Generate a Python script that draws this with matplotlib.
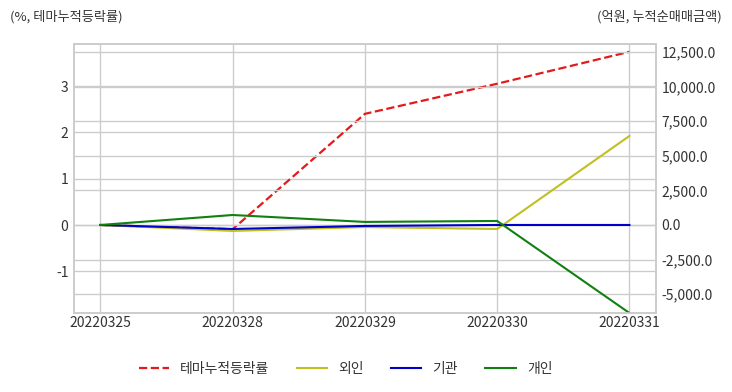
import matplotlib
matplotlib.use('Agg')
import matplotlib.pyplot as plt

plt.rcParams['font.family'] = ['Noto Sans CJK KR', 'DejaVu Sans']
plt.rcParams['axes.unicode_minus'] = False

dates = ['20220325', '20220328', '20220329', '20220330', '20220331']
theme_rate = [0.0, -0.09, 2.40, 3.05, 3.74]      # %, left axis
foreign = [0, -430, -150, -290, 6430]              # 억원, right axis
institution = [0, -290, -70, 0, 0]
individual = [0, 720, 220, 290, -6360]

grid_c = '#cccccc'
text_c = '#333333'

fig = plt.figure(figsize=(7.32, 3.92), dpi=100)
ax = fig.add_axes([0.101, 0.2015, 0.795, 0.6865])
ax2 = ax.twinx()

x = range(len(dates))
l1, = ax.plot(x, theme_rate, color='#e31a1c', ls='--', lw=1.6, label='테마누적등락률')
l2, = ax2.plot(x, foreign, color='#c0c020', lw=1.5, label='외인')
l3, = ax2.plot(x, institution, color='#0000cc', lw=1.5, label='기관')
l4, = ax2.plot(x, individual, color='#108010', lw=1.5, label='개인')

ax.set_xlim(-0.2, 4.2)
ax.set_ylim(-1.9, 3.91)
ax2.set_ylim(-6360, 13080)
ax.set_yticks([-1, 0, 1, 2, 3])
ax2.set_yticks([-5000, -2500, 0, 2500, 5000, 7500, 10000, 12500])
ax2.set_yticklabels(['{:,.1f}'.format(v) for v in ax2.get_yticks()])
ax.set_xticks(list(x))
ax.set_xticklabels(dates)

ax.grid(True, color=grid_c, lw=1)
ax2.yaxis.grid(True, color=grid_c, lw=1)
for a in (ax, ax2):
    a.set_axisbelow(True)
    a.tick_params(length=0, labelsize=10, labelcolor=text_c, pad=4)
    for s in a.spines.values():
        s.set_color(grid_c)
        s.set_linewidth(1.2)
ax.tick_params(axis='x', pad=2)

fig.text(0.014, 0.958, '(%, 테마누적등락률)', fontsize=9.5, color=text_c, ha='left', va='center')
fig.text(0.986, 0.958, '(억원, 누적순매매금액)', fontsize=9.5, color=text_c, ha='right', va='center')

fig.legend(handles=[l1, l2, l3, l4], loc='center', bbox_to_anchor=(0.472, 0.058),
           ncol=4, frameon=False, fontsize=10, handlelength=2.2, columnspacing=1.95,
           labelcolor=text_c)

fig.savefig('out.png', dpi=100)
